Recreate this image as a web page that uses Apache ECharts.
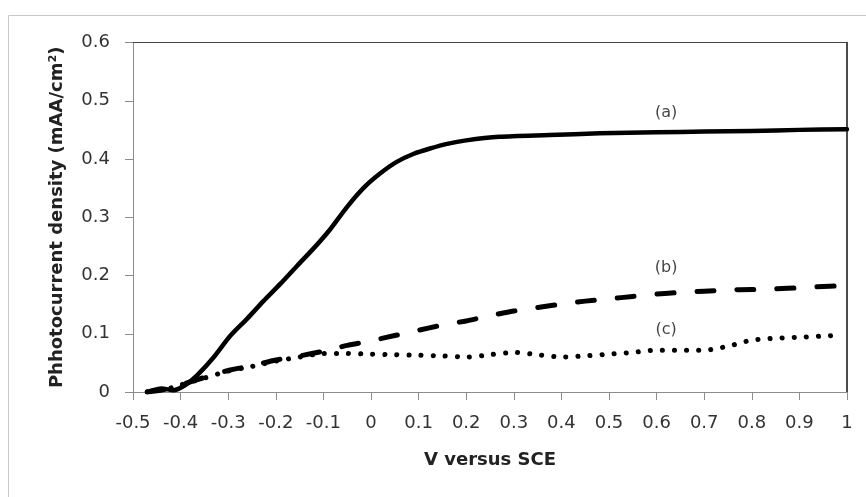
<!DOCTYPE html>
<html>
<head>
<meta charset="utf-8">
<script src="https://cdn.jsdelivr.net/npm/echarts@6/dist/echarts.min.js"></script>
<style>
html,body{margin:0;padding:0;background:#fff;}
#chart{width:866px;height:497px;}
</style>
</head>
<body>
<div id="chart"></div>
<script>
// Voltage (V vs SCE) and photocurrent values
const xA = [-0.47, -0.44, -0.415, -0.39, -0.366, -0.33, -0.296, -0.26, -0.226, -0.19, -0.156, -0.12, -0.086, -0.051, -0.016, 0.019, 0.054, 0.09, 0.124, 0.16, 0.2, 0.27, 0.375, 0.48, 0.6, 0.7, 0.8, 0.9, 1.0];
const yA = [0.0, 0.006, 0.003, 0.012, 0.028, 0.06, 0.096, 0.126, 0.156, 0.186, 0.216, 0.247, 0.279, 0.317, 0.35, 0.375, 0.395, 0.409, 0.418, 0.426, 0.432, 0.438, 0.441, 0.444, 0.446, 0.447, 0.448, 0.45, 0.451];

const xB = [-0.47, -0.43, -0.4, -0.35, -0.3, -0.25, -0.2, -0.15, -0.1, -0.05, 0.0, 0.05, 0.1, 0.15, 0.2, 0.25, 0.3, 0.35, 0.4, 0.45, 0.5, 0.55, 0.6, 0.65, 0.7, 0.75, 0.8, 0.85, 0.9, 0.95, 0.98];
const yB = [0.0, 0.005, 0.012, 0.025, 0.037, 0.045, 0.055, 0.062, 0.07, 0.08, 0.088, 0.097, 0.106, 0.115, 0.122, 0.131, 0.139, 0.145, 0.151, 0.156, 0.16, 0.164, 0.168, 0.171, 0.173, 0.175, 0.176, 0.177, 0.179, 0.181, 0.182];

const xC = [-0.47, -0.43, -0.4, -0.35, -0.3, -0.25, -0.2, -0.15, -0.1, -0.05, 0.0, 0.05, 0.1, 0.15, 0.2, 0.25, 0.3, 0.35, 0.4, 0.45, 0.5, 0.55, 0.6, 0.65, 0.7, 0.75, 0.8, 0.85, 0.9, 0.95, 0.98];
const yC = [0.0, 0.005, 0.012, 0.024, 0.036, 0.044, 0.053, 0.06, 0.066, 0.066, 0.065, 0.064, 0.063, 0.062, 0.06, 0.064, 0.068, 0.064, 0.06, 0.062, 0.065, 0.068, 0.0717, 0.0717, 0.0717, 0.0786, 0.089, 0.0923, 0.094, 0.096, 0.0975];

// Curve annotations
const noteText = ['(a)', '(b)', '(c)'];
const noteX = [0.62, 0.62, 0.62];
const noteY = [0.479, 0.213, 0.106];

const xTitle = 'V versus SCE';
const yTitle = 'Phhotocurrent density (mAA/cm\u00B2)';

const pairs = (xs, ys) => xs.map((x, i) => [x, ys[i]]);
const FONT = 'DejaVu Sans';

const chart = echarts.init(document.getElementById('chart'), null, {renderer: 'canvas'});
chart.setOption({
  animation: false,
  backgroundColor: '#fff',
  graphic: [{
    type: 'rect', silent: true, z: -10,
    shape: {x: 8.5, y: 15.5, width: 870, height: 500},
    style: {fill: '#fff', stroke: '#c8c8c8', lineWidth: 1}
  }],
  grid: {left: 133, top: 42.5, width: 714, height: 349.5, containLabel: false},
  xAxis: [{
    type: 'value', min: -0.5, max: 1, interval: 0.1,
    name: xTitle, nameLocation: 'middle', nameGap: 59,
    nameTextStyle: {fontFamily: FONT, fontSize: 18, fontWeight: 'bold', color: '#222'},
    axisLine: {show: true, onZero: false, lineStyle: {color: '#8c8c8c', width: 1}},
    axisTick: {show: true, inside: false, length: 8, lineStyle: {color: '#8c8c8c'}},
    axisLabel: {fontFamily: FONT, fontSize: 18, color: '#333', margin: 22},
    splitLine: {show: false}
  }, {
    type: 'value', position: 'top', min: -0.5, max: 1, interval: 0.1,
    axisLine: {show: true, onZero: false, lineStyle: {color: '#444', width: 1}},
    axisTick: {show: false}, axisLabel: {show: false}, splitLine: {show: false}
  }],
  yAxis: [{
    type: 'value', min: 0, max: 0.6, interval: 0.1,
    name: yTitle, nameLocation: 'middle', nameGap: 67, nameRotate: 90,
    nameTextStyle: {fontFamily: FONT, fontSize: 18, fontWeight: 'bold', color: '#222'},
    axisLine: {show: true, onZero: false, lineStyle: {color: '#8c8c8c', width: 1}},
    axisTick: {show: true, inside: false, length: 8, lineStyle: {color: '#8c8c8c'}},
    axisLabel: {fontFamily: FONT, fontSize: 18, color: '#333', margin: 23},
    splitLine: {show: false}
  }, {
    type: 'value', position: 'right', min: 0, max: 0.6, interval: 0.1,
    axisLine: {show: true, onZero: false, lineStyle: {color: '#111', width: 1.5}},
    axisTick: {show: false}, axisLabel: {show: false}, splitLine: {show: false}
  }],
  series: [{
    name: '(a)', type: 'line', data: pairs(xA, yA),
    smooth: 0.25, showSymbol: false, symbol: 'none',
    lineStyle: {color: '#000', width: 4.5, cap: 'round', join: 'round'}
  }, {
    name: '(b)', type: 'line', data: pairs(xB, yB),
    smooth: 0.25, showSymbol: false, symbol: 'none',
    lineStyle: {color: '#000', width: 5, type: [17, 23], cap: 'round', join: 'round'}
  }, {
    name: '(c)', type: 'line', data: pairs(xC, yC),
    smooth: 0.25, showSymbol: false, symbol: 'none',
    lineStyle: {color: '#000', width: 5, type: [0.1, 12], cap: 'round', join: 'round'}
  }, {
    name: 'notes', type: 'scatter', symbolSize: 0,
    data: noteText.map((t, i) => ({value: [noteX[i], noteY[i]], name: t})),
    label: {show: true, position: 'inside', formatter: p => p.name,
      fontFamily: FONT, fontSize: 16, color: '#111'},
    silent: true
  }]
});
</script>
</body>
</html>
